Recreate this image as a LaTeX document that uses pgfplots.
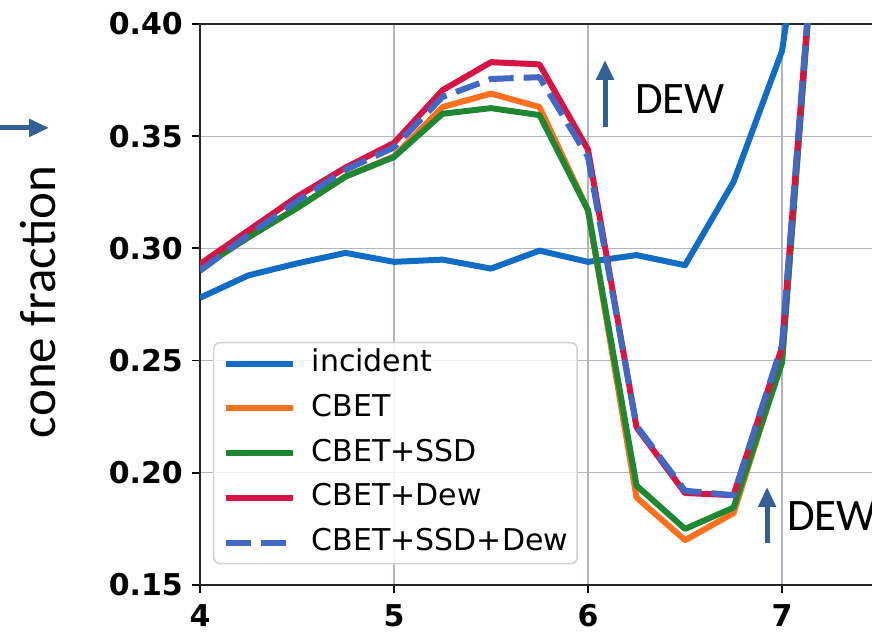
\documentclass[border=0pt]{standalone}
\usepackage{fontspec}
\usepackage{pgfplots}
\usepackage{pgfplotstable}
\pgfplotsset{compat=1.18}
\usetikzlibrary{arrows.meta}
\setmainfont{DejaVu Sans}
\newfontfamily\calib{Carlito}
\definecolor{cinc}{RGB}{16,108,196}
\definecolor{ccbet}{RGB}{255,112,30}
\definecolor{cssd}{RGB}{30,135,50}
\definecolor{cdew}{RGB}{215,20,70}
\definecolor{cssddew}{RGB}{65,105,195}
\definecolor{gridc}{RGB}{178,180,192}
\definecolor{legc}{RGB}{210,210,210}
\definecolor{annc}{RGB}{52,96,152}
\pgfplotstableread{
x incident cbet ssd dew ssddew
4.00 0.278  0.291 0.291  0.293  0.290
4.25 0.288  0.305 0.305  0.308  0.306
4.50 0.2933 0.318 0.318  0.323  0.321
4.75 0.298  0.332 0.332  0.336  0.335
5.00 0.294  0.341 0.3407 0.347  0.345
5.25 0.295  0.363 0.360  0.3705 0.3675
5.50 0.291  0.369 0.3625 0.383  0.3755
5.75 0.299  0.363 0.3594 0.382  0.3763
6.00 0.294  0.317 0.317  0.344  0.3407
6.25 0.297  0.189 0.1943 0.2203 0.221
6.50 0.2925 0.170 0.175  0.191  0.192
6.75 0.3296 0.182 0.1845 0.190  0.190
7.00 0.388  0.250 0.249  0.256  0.257
7.25 0.533  0.535 0.535  0.535  0.535
}\data
\begin{document}
\begin{tikzpicture}
\useasboundingbox (0,0) rectangle (872bp,632bp);
\begin{axis}[
  at={(200bp,47bp)}, anchor=south west,
  scale only axis, width=680bp, height=561bp,
  xmin=4, xmax=7.505, ymin=0.15, ymax=0.40,
  xtick={4,5,6,7}, ytick={0.15,0.20,0.25,0.30,0.35,0.40},
  tick pos=left, tick align=outside,
  major tick length=8bp,
  every tick/.style={black, line width=1.8bp},
  axis line style={line width=2.5bp, black!85},
  grid=major,
  major grid style={line width=1.3bp, gridc},
  clip mode=individual,
  /pgf/number format/assume math mode=true,
  yticklabel style={/pgf/number format/.cd, fixed, fixed zerofill, precision=2,
     /tikz/.cd, font=\fontsize{30bp}{36bp}\selectfont\bfseries, inner sep=0pt, anchor=east, xshift=-9bp},
  xticklabel style={font=\fontsize{30bp}{36bp}\selectfont\bfseries, inner sep=0pt, anchor=north, yshift=-11bp},
  ylabel={\calib cone fraction},
  ylabel style={font=\fontsize{51bp}{60bp}\selectfont, at={(axis description cs:-0.2132,0.5045)}, anchor=base, inner sep=0pt},
  every axis plot/.append style={line width=6bp, line join=round},
  legend image code/.code={\draw[#1] (0bp,0bp) -- (67bp,0bp);},
  legend style={at={(0.0191,0.4332)}, anchor=north west,
     draw=legc, line width=1.5bp, rounded corners=6bp,
     fill=white, fill opacity=0.85, text opacity=1,
     font=\fontsize{30bp}{36bp}\selectfont,
     inner xsep=9bp, inner ysep=6bp, row sep=14.7bp, column sep=16bp,
     nodes={inner sep=0pt, text height=23bp, text depth=7bp}},
  legend cell align=left,
]
\addplot[cinc] table[x=x, y=incident] {\data};
\addlegendentry{incident}
\addplot[ccbet] table[x=x, y=cbet] {\data};
\addlegendentry{CBET}
\addplot[cssd] table[x=x, y=ssd] {\data};
\addlegendentry{CBET+SSD}
\addplot[cdew] table[x=x, y=dew] {\data};
\addlegendentry{CBET+Dew}
\addplot[cssddew, dash pattern=on 25bp off 10bp] table[x=x, y=ssddew] {\data};
\addlegendentry{CBET+SSD+Dew}
\draw[annc, line width=5bp, -{Triangle[width=17bp,length=20bp]}] (axis cs:2.969,0.3537) -- (axis cs:3.222,0.3537);
\draw[annc, line width=5bp, -{Triangle[width=17bp,length=20bp]}] (axis cs:6.0876,0.3541) -- (axis cs:6.0876,0.3840);
\draw[annc, line width=5bp, -{Triangle[width=17bp,length=20bp]}] (axis cs:6.923,0.1687) -- (axis cs:6.923,0.1937);
\node[anchor=base west, inner sep=0pt, font=\calib\fontsize{45bp}{54bp}\selectfont] at (axis cs:6.242,0.3603) {DEW};
\node[anchor=base west, inner sep=0pt, font=\calib\fontsize{45bp}{54bp}\selectfont] at (axis cs:7.026,0.1745) {DEW};
\end{axis}
\end{tikzpicture}
\end{document}
